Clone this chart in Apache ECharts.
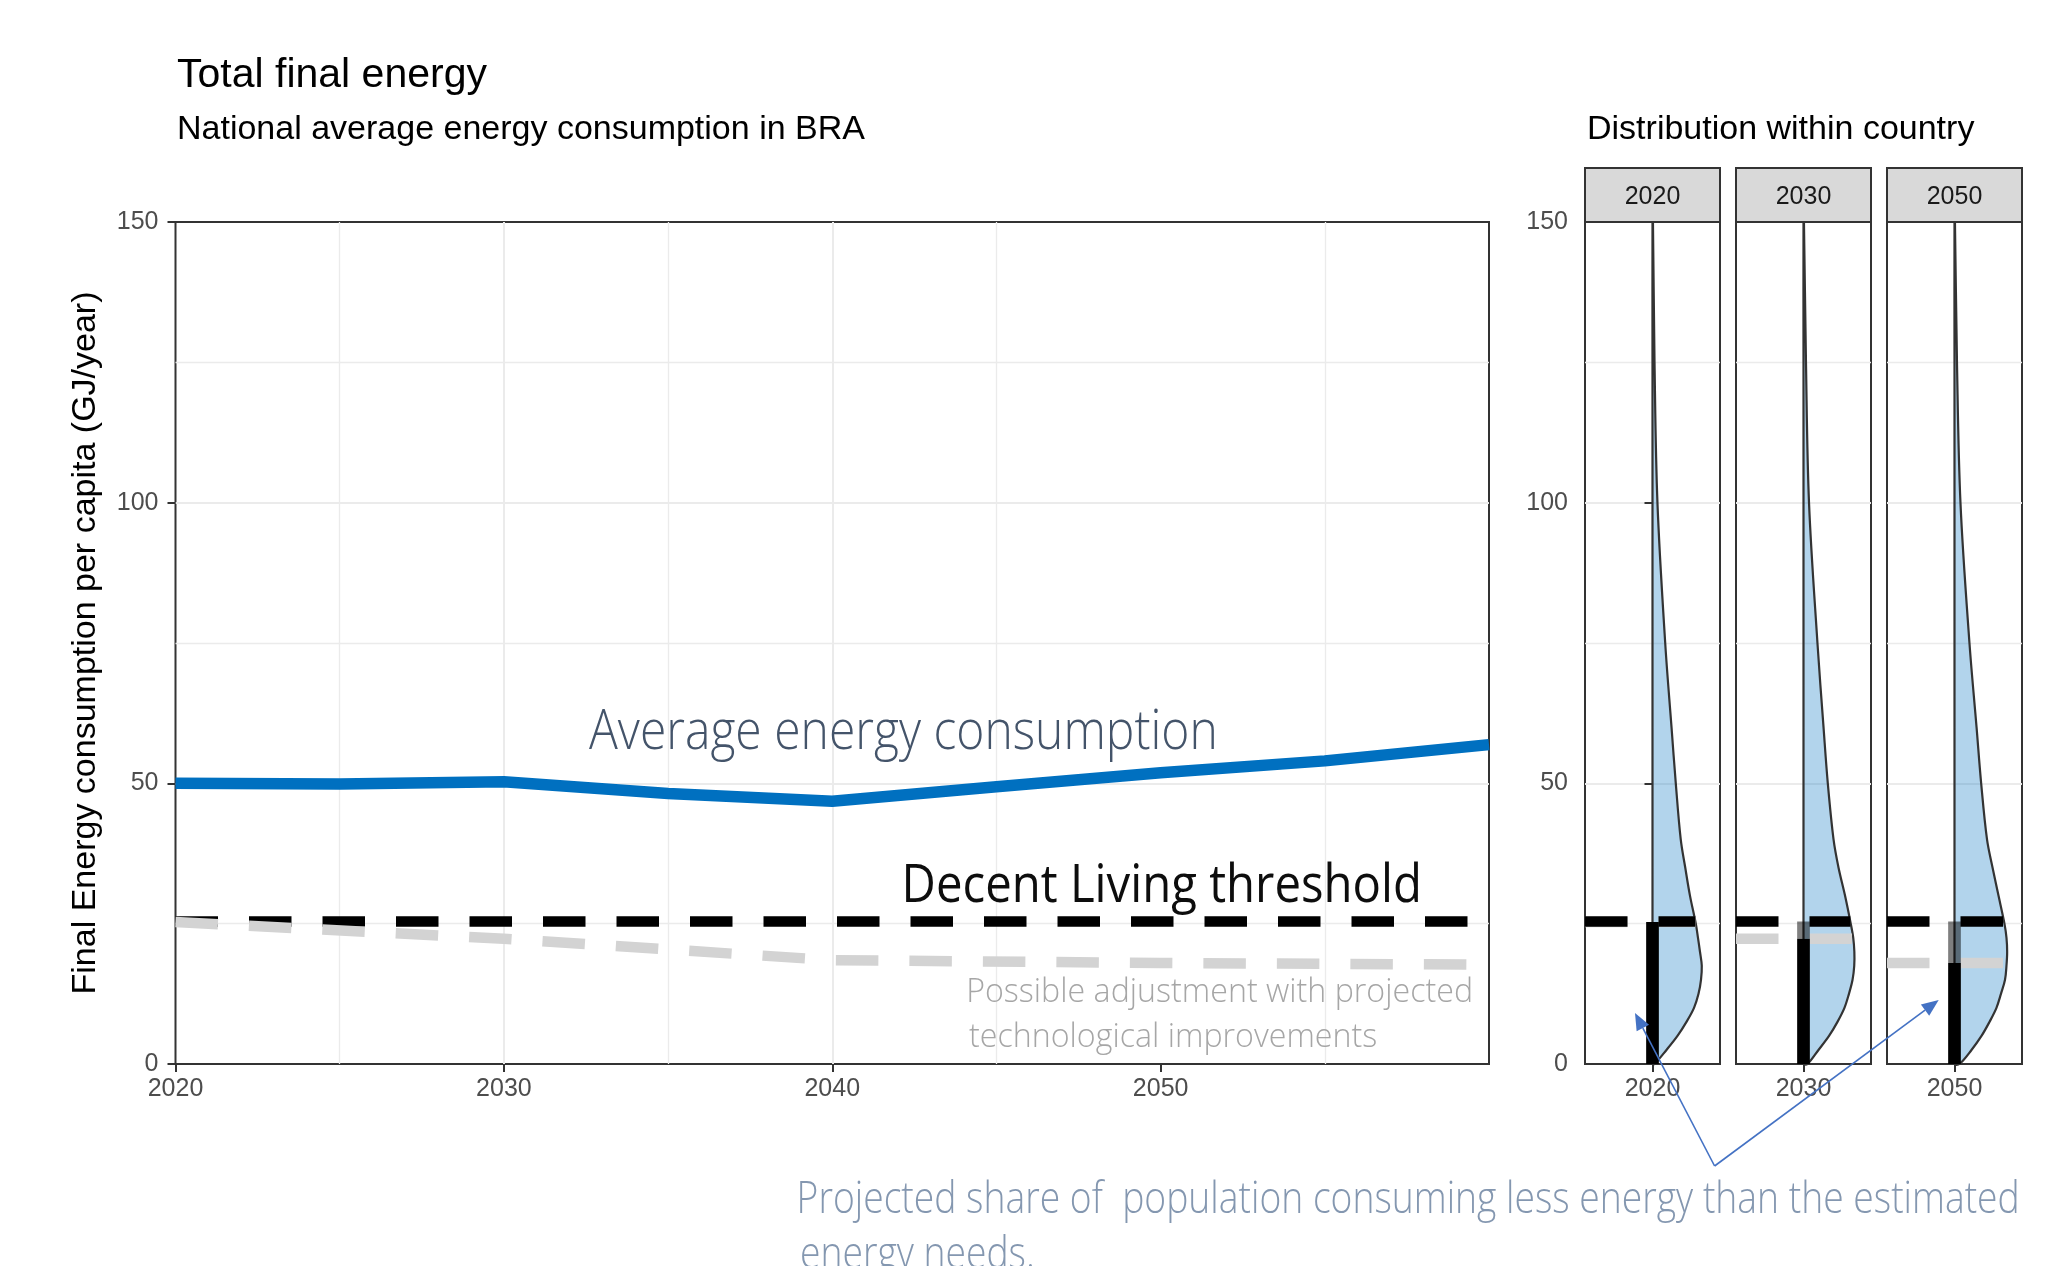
<!DOCTYPE html>
<html>
<head>
<meta charset="utf-8">
<script src="https://cdn.jsdelivr.net/npm/echarts@6/dist/echarts.min.js"></script>
<style>
html,body{margin:0;padding:0;background:#ffffff;}
#chart{width:2054px;height:1266px;}
</style>
</head>
<body>
<div id="chart"></div>
<script>
// ---------------- DATA ----------------
const years = [2020, 2025, 2030, 2035, 2040, 2045, 2050, 2055, 2060];
const avgEnergy = [50.0, 49.9, 50.3, 48.2, 46.8, 49.4, 51.9, 54.0, 56.9];
const thresholdYears = [2020, 2060];
const thresholdValues = [25.4, 25.4];
const adjustedYears = [2020, 2030, 2040, 2050, 2060];
const adjustedValues = [25.3, 22.3, 18.5, 18.0, 17.7];

const xTickValues = [2020, 2030, 2040, 2050];
const yTickValues = [0, 50, 100, 150];

const panelYears = ['2020', '2030', '2050'];
const panelThreshold = [25.4, 25.4, 25.4];
const panelAdjusted = [25.3, 22.3, 18.0];

// half-violin density width (x units, panel spans -0.6..0.6) at each energy level
const densityY    = [0, 2.5, 5, 7.5, 10, 12.5, 15, 17.5, 20, 22.5, 25, 30, 35, 40, 50, 60, 75, 100, 125, 150];
const density2020 = [0.018, 0.124, 0.222, 0.302, 0.369, 0.409, 0.431, 0.438, 0.422, 0.404, 0.385, 0.333, 0.291, 0.251, 0.207, 0.169, 0.113, 0.044, 0.018, 0.004];
const density2030 = [0.036, 0.133, 0.227, 0.302, 0.364, 0.404, 0.436, 0.451, 0.452, 0.442, 0.420, 0.369, 0.311, 0.267, 0.216, 0.178, 0.124, 0.049, 0.022, 0.004];
const density2050 = [0.044, 0.151, 0.240, 0.311, 0.373, 0.413, 0.449, 0.462, 0.468, 0.462, 0.444, 0.391, 0.338, 0.289, 0.237, 0.196, 0.133, 0.053, 0.022, 0.004];
const densities = [density2020, density2030, density2050];

// ---------------- LAYOUT / STYLE ----------------
const FONT = "'Liberation Sans', Arial, sans-serif";
const ANNOT_FONT = "'Open Sans', 'Noto Sans', sans-serif";
const mainGrid = {left: 175.5, top: 222, width: 1313.5, height: 842};
const panelLefts = [1585, 1736, 1887];
const panelWidth = 135;
const gridColor = '#EBEBEB';
const borderColor = '#333333';
const dash = [42.5, 31];

const mctx = document.createElement('canvas').getContext('2d');
function belowMiddle(font) {
  mctx.font = font;
  mctx.textBaseline = 'middle';
  return mctx.measureText('H').actualBoundingBoxDescent;
}
function fitText(o) {
  const cap = o.baseline - o.capTop;
  mctx.font = `${o.weight} 100px ${o.family}`;
  mctx.textBaseline = 'alphabetic';
  const capRatio = mctx.measureText('H').actualBoundingBoxAscent / 100;
  const size = cap / capRatio;
  const font = `${o.weight} ${size.toFixed(2)}px ${o.family}`;
  mctx.font = font;
  const m = mctx.measureText(o.text);
  const ink = m.actualBoundingBoxRight + m.actualBoundingBoxLeft;
  const sx = (o.right - o.left) / ink;
  return {size, font, sx, inkLeft: m.actualBoundingBoxLeft, mid: belowMiddle(font)};
}
function textEl(o, fit, baseline) {
  return {
    type: 'text', x: o.left + fit.inkLeft * fit.sx, y: baseline - fit.mid, scaleX: fit.sx, scaleY: 1, z: 100,
    style: {text: o.text, font: fit.font, fill: o.color, textAlign: 'left', textVerticalAlign: 'middle'}
  };
}

function densityAt(dens, y) {
  for (let k = 0; k < densityY.length - 1; k++) {
    if (y >= densityY[k] && y <= densityY[k + 1]) {
      const t = (y - densityY[k]) / (densityY[k + 1] - densityY[k]);
      return dens[k] + t * (dens[k + 1] - dens[k]);
    }
  }
  return 0;
}

// ---------------- OPTION ----------------
const grids = [Object.assign({show: true, borderColor: borderColor, borderWidth: 2, backgroundColor: '#ffffff', outerBoundsMode: 'none'}, mainGrid)];
panelLefts.forEach(l => grids.push({show: true, left: l, top: mainGrid.top, width: panelWidth, height: mainGrid.height,
  borderColor: borderColor, borderWidth: 2, backgroundColor: '#ffffff', outerBoundsMode: 'none'}));

const tickStyle = {show: true, length: 8, lineStyle: {color: '#333333', width: 2}};
const labelStyle = {color: '#4D4D4D', fontSize: 25, fontFamily: FONT};
const splitStyle = {show: true, showMinLine: false, showMaxLine: false, lineStyle: {color: gridColor, width: 2}};
const minorSplitStyle = {show: true, lineStyle: {color: gridColor, width: 1.3}};

const xAxes = [{
  type: 'value', gridIndex: 0, min: 2020, max: 2060, interval: 10,
  axisLine: {show: false},
  axisTick: Object.assign({customValues: xTickValues}, tickStyle),
  axisLabel: Object.assign({customValues: xTickValues, margin: 13, formatter: v => String(v)}, labelStyle),
  splitLine: splitStyle,
  minorTick: {show: false, splitNumber: 2},
  minorSplitLine: minorSplitStyle
}];
const yAxes = [{
  type: 'value', gridIndex: 0, min: 0, max: 150, interval: 50,
  name: 'Final Energy consumption per capita (GJ/year)', nameLocation: 'middle', nameGap: 73, nameRotate: 90,
  nameTextStyle: {fontSize: 34, color: '#000000', fontFamily: FONT},
  axisLine: {show: false},
  axisTick: Object.assign({customValues: yTickValues}, tickStyle),
  axisLabel: Object.assign({customValues: yTickValues, margin: 17, formatter: v => String(v)}, labelStyle),
  splitLine: splitStyle,
  minorTick: {show: false, splitNumber: 2},
  minorSplitLine: minorSplitStyle
}];
panelYears.forEach((yr, i) => {
  xAxes.push({
    type: 'value', gridIndex: i + 1, min: -0.6, max: 0.6, interval: 0.6,
    axisLine: {show: false},
    axisTick: Object.assign({customValues: [0]}, tickStyle),
    axisLabel: Object.assign({customValues: [0], margin: 13, formatter: () => yr}, labelStyle),
    splitLine: {show: false}
  });
  yAxes.push({
    type: 'value', gridIndex: i + 1, min: 0, max: 150, interval: 50,
    axisLine: {show: false},
    axisTick: Object.assign({customValues: yTickValues}, tickStyle, {show: i === 0}),
    axisLabel: Object.assign({customValues: yTickValues, margin: 17, formatter: v => String(v)}, labelStyle, {show: i === 0}),
    splitLine: splitStyle,
    minorTick: {show: false, splitNumber: 2},
    minorSplitLine: minorSplitStyle
  });
});

const series = [
  {type: 'line', xAxisIndex: 0, yAxisIndex: 0, symbol: 'none', silent: true, z: 3,
   data: thresholdYears.map((y, k) => [y, thresholdValues[k]]),
   lineStyle: {color: '#000000', width: 10.5, type: dash}},
  {type: 'line', xAxisIndex: 0, yAxisIndex: 0, symbol: 'none', silent: true, z: 4,
   data: adjustedYears.map((y, k) => [y, adjustedValues[k]]),
   lineStyle: {color: '#D3D3D3', width: 10.5, type: dash}},
  {type: 'line', xAxisIndex: 0, yAxisIndex: 0, symbol: 'none', silent: true, z: 5,
   data: years.map((y, k) => [y, avgEnergy[k]]),
   lineStyle: {color: '#0070C0', width: 11.5}}
];

panelYears.forEach((yr, i) => {
  const dens = densities[i];
  series.push({
    type: 'custom', xAxisIndex: i + 1, yAxisIndex: i + 1, silent: true, z: 2,
    data: [[0, 0]],
    renderItem: (params, api) => {
      const curve = densityY.map((y, k) => api.coord([dens[k], y]));
      const centre = densityY.slice().reverse().map(y => api.coord([0, y]));
      return {type: 'polygon', shape: {points: curve.concat(centre), smooth: 0.35},
        style: {fill: 'rgba(0,112,192,0.3)', stroke: '#333333', lineWidth: 2.2, lineJoin: 'round'}};
    }
  });
  series.push({type: 'line', xAxisIndex: i + 1, yAxisIndex: i + 1, symbol: 'none', silent: true, z: 4,
    data: [[-0.6, panelAdjusted[i]], [densityAt(dens, panelAdjusted[i]), panelAdjusted[i]]],
    lineStyle: {color: '#D3D3D3', width: 10.5, type: dash}});
  series.push({type: 'line', xAxisIndex: i + 1, yAxisIndex: i + 1, symbol: 'none', silent: true, z: 5,
    data: [[-0.6, panelThreshold[i]], [densityAt(dens, panelThreshold[i]), panelThreshold[i]]],
    lineStyle: {color: '#000000', width: 10.5, type: dash}});
  series.push({type: 'line', xAxisIndex: i + 1, yAxisIndex: i + 1, symbol: 'none', silent: true, z: 6,
    data: [[0, 0], [0, panelAdjusted[i]]],
    lineStyle: {color: '#000000', width: 12.7}});
  series.push({type: 'line', xAxisIndex: i + 1, yAxisIndex: i + 1, symbol: 'none', silent: true, z: 6,
    data: [[0, panelAdjusted[i]], [0, panelThreshold[i]]],
    lineStyle: {color: 'rgba(0,0,0,0.5)', width: 12.7}});
});

// ---------------- TITLES ----------------
function titleTop(size, baseline) {
  return baseline - size / 2 - belowMiddle(`400 ${size}px ${FONT}`);
}
const titles = [
  {text: 'Total final energy', left: 177, top: titleTop(41, 87), padding: 0,
   textStyle: {fontSize: 41, lineHeight: 41, fontWeight: 'normal', color: '#000000', fontFamily: FONT}},
  {text: 'National average energy consumption in BRA', left: 177, top: titleTop(34, 139), padding: 0,
   textStyle: {fontSize: 34, lineHeight: 34, fontWeight: 'normal', color: '#000000', fontFamily: FONT}},
  {text: 'Distribution within country', left: 1587, top: titleTop(34, 139), padding: 0,
   textStyle: {fontSize: 34, lineHeight: 34, fontWeight: 'normal', color: '#000000', fontFamily: FONT}}
];

// ---------------- GRAPHICS (strips, annotations, arrows) ----------------
const graphics = [];
panelLefts.forEach((l, i) => {
  graphics.push({type: 'rect', shape: {x: l, y: 168, width: panelWidth, height: 54}, z: 10,
    style: {fill: '#D9D9D9', stroke: borderColor, lineWidth: 2}});
  graphics.push({type: 'text', x: l + panelWidth / 2, y: 197.5, z: 11,
    style: {text: panelYears[i], font: `400 25px ${FONT}`, fill: '#1A1A1A', textAlign: 'center', textVerticalAlign: 'middle'}});
});

const annA = {text: 'Average energy consumption', left: 589, right: 1214, capTop: 710, baseline: 749, weight: 300, family: ANNOT_FONT, color: '#44546A'};
const fitA = fitText(annA);
graphics.push(textEl(annA, fitA, annA.baseline));

const annD = {text: 'Decent Living threshold', left: 906, right: 1418, capTop: 863, baseline: 901.7, weight: 400, family: ANNOT_FONT, color: '#0D0D0D'};
const fitD = fitText(annD);
graphics.push(textEl(annD, fitD, annD.baseline));

const annP1 = {text: 'Possible adjustment with projected', left: 969, right: 1471, capTop: 978.3, baseline: 1002.4, weight: 300, family: ANNOT_FONT, color: '#A6A6A6'};
const fitP = fitText(annP1);
graphics.push(textEl(annP1, fitP, annP1.baseline));
const annP2 = {text: 'technological improvements', left: 969, color: '#A6A6A6'};
graphics.push(textEl(annP2, Object.assign({}, fitP, {inkLeft: 0}), 1046.8));

const annQ1 = {text: 'Projected share of  population consuming less energy than the estimated', left: 800, right: 2017, capTop: 1182, baseline: 1213.3, weight: 300, family: ANNOT_FONT, color: '#8497B0'};
const fitQ = fitText(annQ1);
graphics.push(textEl(annQ1, fitQ, annQ1.baseline));
const annQ2 = {text: 'energy needs.', left: 800, color: '#8497B0'};
graphics.push(textEl(annQ2, Object.assign({}, fitQ, {inkLeft: 0}), 1268));

function arrow(from, tip) {
  const dx = tip[0] - from[0], dy = tip[1] - from[1];
  const L = Math.hypot(dx, dy), ux = dx / L, uy = dy / L;
  const len = 17, half = 7;
  const bx = tip[0] - ux * len, by = tip[1] - uy * len;
  return [
    {type: 'line', z: 20, shape: {x1: from[0], y1: from[1], x2: bx, y2: by}, style: {stroke: '#4472C4', lineWidth: 1.6}},
    {type: 'polygon', z: 20, shape: {points: [tip, [bx - uy * half, by + ux * half], [bx + uy * half, by - ux * half]]}, style: {fill: '#4472C4'}}
  ];
}
const arrowFrom = [1714.6, 1166];
const arrowTips = [[1635, 1013], [1938.7, 1000]];
arrowTips.forEach(t => graphics.push(...arrow(arrowFrom, t)));

const chart = echarts.init(document.getElementById('chart'), null, {renderer: 'canvas'});
chart.setOption({
  backgroundColor: '#ffffff',
  animation: false,
  title: titles,
  grid: grids,
  xAxis: xAxes,
  yAxis: yAxes,
  series: series,
  graphic: {elements: graphics}
});
</script>
</body>
</html>
